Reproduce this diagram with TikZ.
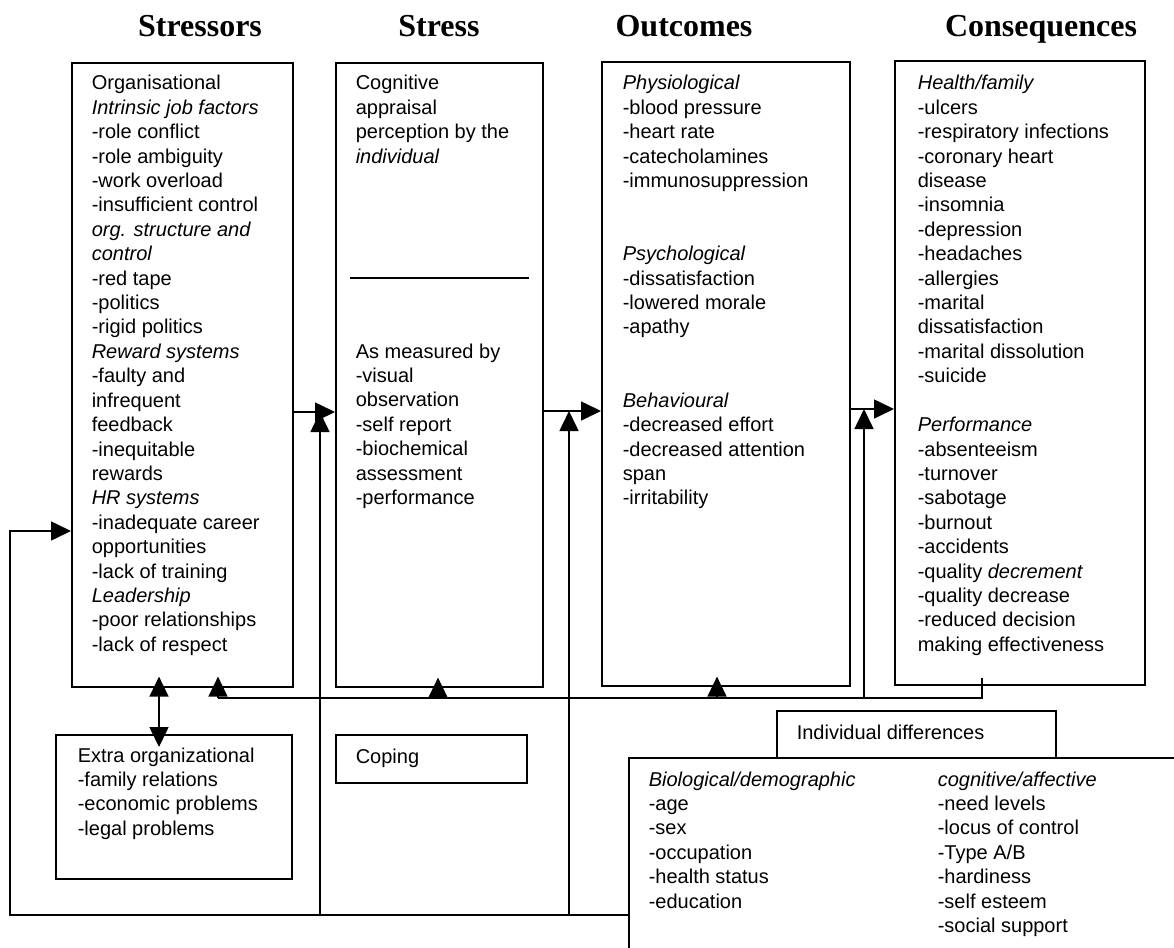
\documentclass[tikz,border=0pt]{standalone}
\usepackage{fontspec}
\setmainfont{Liberation Sans}
\newfontfamily\headfont{Liberation Serif}
\usetikzlibrary{arrows.meta,calc}

% a top-aligned block of lines whose baseline is that of its first line
\newcommand{\boxtext}[1]{\parbox[t]{330pt}{\raggedright #1}}
\newcommand{\bodyfont}{\fontsize{20}{24.4}\selectfont}

\begin{document}
\begin{tikzpicture}[
  x=1pt, y=-1pt,
  line width=1.6pt,
  >={Triangle[length=20pt,width=19pt]},
  frame/.style={draw, rectangle, inner sep=0pt, anchor=north west},
  body/.style={anchor=base west, inner sep=0pt, font=\bodyfont},
  heading/.style={anchor=base, inner sep=0pt, font=\headfont\bfseries\fontsize{32}{38}\selectfont}
]
\useasboundingbox (0,0) rectangle (1174,947);

% column headings
\node[heading] (h-stressors) at (200,37) {Stressors};
\node[heading] (h-stress) at (439,37) {Stress};
\node[heading] (h-outcomes) at (684,37) {Outcomes};
\node[heading] (h-conseq) at (1041,37) {Consequences};

% main column boxes
\node[frame, minimum width=221pt, minimum height=624pt] (stressors) at (71,62) {};
\node[frame, minimum width=207pt, minimum height=624pt] (stress) at (335,62) {};
\node[frame, minimum width=248pt, minimum height=624pt] (outcomes) at (601,61) {};
\node[frame, minimum width=250pt, minimum height=624pt] (conseq) at (894,60) {};

% lower boxes
\node[frame, minimum width=236pt, minimum height=144pt] (extra) at (55,734) {};
\node[frame, minimum width=191pt, minimum height=48pt] (coping) at (335,734) {};
\node[frame, minimum width=600pt, minimum height=250pt] (idbox) at (628,757) {};
\node[frame, minimum width=279pt, minimum height=47pt] (idlabel) at (776,710) {};

% divider inside the stress box
\draw ($(stress.north west)+(15,216)$) -- ($(stress.north east)+(-15,216)$);

% box contents
\node[body] (t-stressors) at (91,90) {\boxtext{Organisational\\
\textit{Intrinsic job factors}\\
-role conflict\\
-role ambiguity\\
-work overload\\
-insufficient control\\
\textit{org. structure and}\\
\textit{control}\\
-red tape\\
-politics\\
-rigid politics\\
\textit{Reward systems}\\
-faulty and\\
infrequent\\
feedback\\
-inequitable\\
rewards\\
\textit{HR systems}\\
-inadequate career\\
opportunities\\
-lack of training\\
\textit{Leadership}\\
-poor relationships\\
-lack of respect}};

\node[body] (t-stress1) at (355,90) {\boxtext{Cognitive\\
appraisal\\
perception by the\\
\textit{individual}}};

\node[body] (t-stress2) at (355,358) {\boxtext{As measured by\\
-visual\\
observation\\
-self report\\
-biochemical\\
assessment\\
-performance}};

\node[body] (t-outcomes) at (622,90) {\boxtext{\textit{Physiological}\\
-blood pressure\\
-heart rate\\
-catecholamines\\
-immunosuppression\\
\mbox{}\\
\mbox{}\\
\textit{Psychological}\\
-dissatisfaction\\
-lowered morale\\
-apathy\\
\mbox{}\\
\mbox{}\\
\textit{Behavioural}\\
-decreased effort\\
-decreased attention\\
span\\
-irritability}};

\node[body] (t-conseq) at (917,90) {\boxtext{\textit{Health/family}\\
-ulcers\\
-respiratory infections\\
-coronary heart\\
disease\\
-insomnia\\
-depression\\
-headaches\\
-allergies\\
-marital\\
dissatisfaction\\
-marital dissolution\\
-suicide\\
\mbox{}\\
\textit{Performance}\\
-absenteeism\\
-turnover\\
-sabotage\\
-burnout\\
-accidents\\
-quality \textit{decrement}\\
-quality decrease\\
-reduced decision\\
making effectiveness}};

\node[body] (t-extra) at (77,762) {\boxtext{Extra organizational\\
-family relations\\
-economic problems\\
-legal problems}};

\node[body] (t-coping) at (355,763) {Coping};
\node[body] (t-idlabel) at (796,739) {Individual differences};

\node[body] (t-bio) at (648,786) {\boxtext{\textit{Biological/demographic}\\
-age\\
-sex\\
-occupation\\
-health status\\
-education}};

\node[body] (t-cog) at (937,786) {\boxtext{\textit{cognitive/affective}\\
-need levels\\
-locus of control\\
-Type A/B\\
-hardiness\\
-self esteem\\
-social support}};

% routing levels and columns for the connectors
\coordinate (yA) at (0,412);
\coordinate (yB) at (0,411);
\coordinate (yC) at (0,409);
\coordinate (yIn) at (0,531);
\coordinate (busLow) at (0,915);
\coordinate (busMid) at (0,698);
\coordinate (xL) at (10,0);
\coordinate (xS) at (320,0);
\coordinate (xO) at (569,0);
\coordinate (xC) at (864,0);
\coordinate (xF) at (982,0);
\coordinate (xa1) at (218,0);
\coordinate (xa2) at (438,0);
\coordinate (xa3) at (717,0);
\coordinate (xd) at (159,0);

% forward chain
\draw[->] (stressors.east |- yA) -- (stress.west |- yA);
\draw[->] (stress.east |- yB) -- (outcomes.west |- yB);
\draw[->] (outcomes.east |- yC) -- (conseq.west |- yC);

% individual differences feed every stage
\draw[->] (idbox.west |- busLow) -- (xL |- busLow) -- (xL |- yIn) -- (stressors.west |- yIn);
\draw[->] (xS |- busLow) -- (xS |- yA);
\draw[->] (xO |- busLow) -- (xO |- yB);

% consequences loop back to the earlier stages
\draw ([yshift=8pt]conseq.south -| xF) -- (xF |- busMid) -- (xa1 |- busMid);
\draw[->] (xa1 |- busMid) -- ([yshift=11pt]stressors.south -| xa1);
\draw[->] (xa2 |- busMid) -- ([yshift=10pt]stress.south -| xa2);
\draw[->] (xa3 |- busMid) -- ([yshift=10pt]outcomes.south -| xa3);
\draw[->] (xC |- busMid) -- (xC |- yC);

% organisational and extra-organisational stressors interact
\draw[<->] ([yshift=11pt]stressors.south -| xd) -- ([yshift=-13pt]extra.north -| xd);
\end{tikzpicture}
\end{document}
